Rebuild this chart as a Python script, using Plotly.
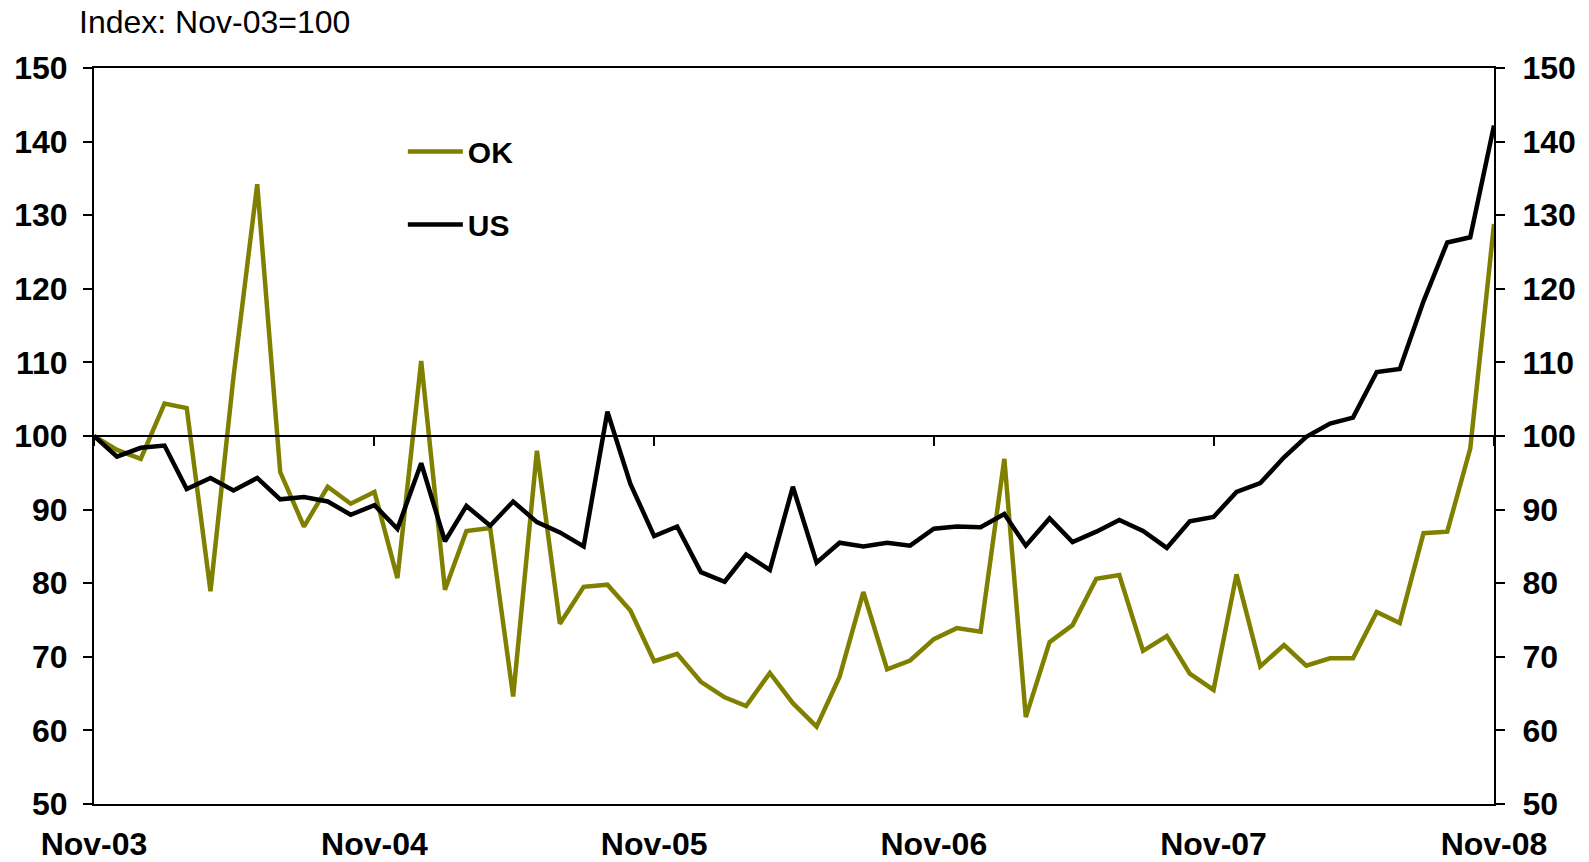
import pandas as pd
import plotly.graph_objects as go

# ---- data ----
months = pd.date_range("2003-11-01", periods=61, freq="MS")
ok_values = [100, 98.1, 96.9, 104.4, 103.8, 78.9, 108.0, 134.2, 95.1, 87.7,
             93.1, 90.8, 92.4, 80.7, 110.2, 79.1, 87.1, 87.5, 64.6, 98.0,
             74.5, 79.5, 79.8, 76.3, 69.4, 70.4, 66.6, 64.5, 63.3, 67.8,
             63.7, 60.5, 67.3, 78.8, 68.3, 69.5, 72.4, 73.9, 73.4, 96.9,
             61.8, 72.0, 74.3, 80.6, 81.1, 70.8, 72.8, 67.7, 65.5, 81.2,
             68.7, 71.6, 68.8, 69.8, 69.8, 76.1, 74.6, 86.8, 87.0, 98.3,
             128.8]
us_values = [100, 97.2, 98.4, 98.7, 92.8, 94.3, 92.6, 94.3, 91.4, 91.7,
             91.1, 89.3, 90.6, 87.4, 96.3, 85.7, 90.5, 87.8, 91.1, 88.3,
             86.9, 85.0, 103.3, 93.5, 86.4, 87.7, 81.5, 80.2, 83.9, 81.8,
             93.1, 82.8, 85.5, 85.0, 85.5, 85.1, 87.4, 87.7, 87.6, 89.4,
             85.1, 88.8, 85.6, 87.0, 88.6, 87.1, 84.8, 88.4, 89.0, 92.4,
             93.6, 97.1, 99.9, 101.7, 102.5, 108.7, 109.1, 118.3, 126.3, 127.0,
             142.2]
tick_dates = ["2003-11-01", "2004-11-01", "2005-11-01", "2006-11-01", "2007-11-01", "2008-11-01"]
tick_text = ["Nov-03", "Nov-04", "Nov-05", "Nov-06", "Nov-07", "Nov-08"]
y_ticks = [50, 60, 70, 80, 90, 100, 110, 120, 130, 140, 150]
series_names = ["OK", "US"]
title_text = "Index: Nov-03=100"

OLIVE = "#808000"
FONT = "Liberation Sans, Arial, sans-serif"
tickfont = dict(family=FONT, size=32, color="black", weight="bold")

fig = go.Figure()
fig.add_trace(go.Scatter(x=months, y=ok_values, name=series_names[0], mode="lines",
                         line=dict(color=OLIVE, width=4.5), legendgroup="a",
                         xaxis="x", yaxis="y"))
fig.add_trace(go.Scatter(x=months, y=us_values, name=series_names[1], mode="lines",
                         line=dict(color="black", width=4.5), legendgroup="b",
                         xaxis="x2", yaxis="y2"))

xr = [months[0], months[-1]]
fig.update_layout(
    width=1589, height=862,
    margin=dict(l=94, r=95, t=68, b=58),
    paper_bgcolor="white", plot_bgcolor="white",
    showlegend=True,
    legend=dict(x=0.2206, y=0.922, xanchor="left", yanchor="top",
                font=dict(family=FONT, size=30, color="black", weight="bold"),
                bgcolor="rgba(0,0,0,0)", traceorder="grouped", tracegroupgap=31,
                itemwidth=55),
    xaxis=dict(range=xr, tickvals=tick_dates, ticktext=tick_text, ticks="",
               showline=True, linecolor="black", linewidth=2, mirror=True,
               showgrid=False, zeroline=False, tickfont=tickfont,
               ticklabelstandoff=11, automargin=False),
    xaxis2=dict(range=xr, overlaying="x", anchor="free", position=0.5,
                tickvals=tick_dates, ticktext=tick_text, showticklabels=False,
                ticks="outside", ticklen=9, tickwidth=2, tickcolor="black",
                showline=True, linecolor="black", linewidth=2,
                showgrid=False, zeroline=False, automargin=False),
    yaxis=dict(range=[50, 150], tickvals=y_ticks, ticks="outside", ticklen=9,
               tickwidth=2, tickcolor="black", showline=True, linecolor="black",
               linewidth=2, showgrid=False, zeroline=False, tickfont=tickfont,
               ticklabelstandoff=9, automargin=False),
    yaxis2=dict(range=[50, 150], tickvals=y_ticks, ticks="outside", ticklen=9,
                tickwidth=2, tickcolor="black", showline=True, linecolor="black",
                linewidth=2, showgrid=False, zeroline=False, tickfont=tickfont,
                overlaying="y", side="right", anchor="x2", ticklabelstandoff=11,
                automargin=False),
    annotations=[dict(text=title_text, xref="paper", yref="paper",
                      x=-0.012, y=1.063, xanchor="left", yanchor="middle",
                      showarrow=False,
                      font=dict(family=FONT, size=32, color="black"))],
)

fig.write_html("out.html", config={"displayModeBar": False},
               post_script="document.body.style.margin='0px';")
